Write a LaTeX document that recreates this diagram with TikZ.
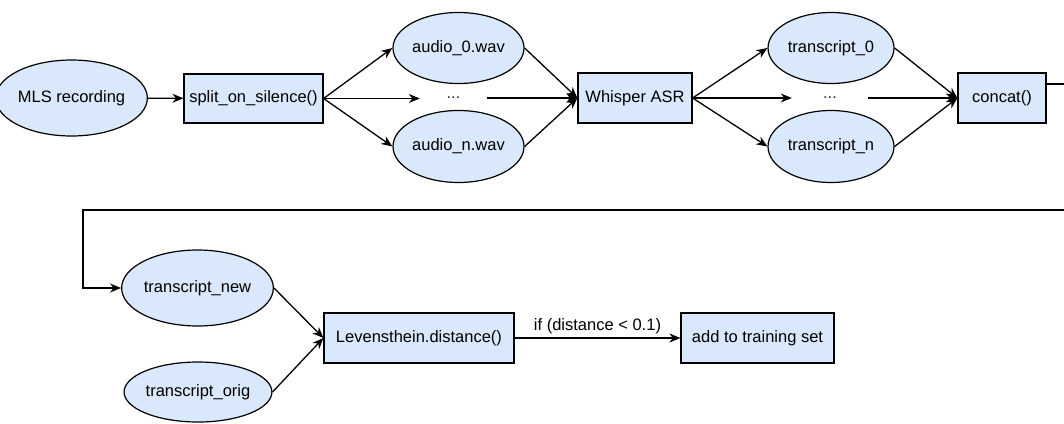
\documentclass[tikz,border=0pt]{standalone}
\usepackage{fontspec}
\setmainfont{Liberation Sans}
\usetikzlibrary{arrows.meta,shapes.geometric,calc}
\definecolor{boxfill}{HTML}{DAE8FC}
\tikzset{
  base/.style={draw=black, line width=1.2pt, fill=boxfill, inner sep=0pt,
    font=\fontsize{16.5}{19}\selectfont, text=black},
  oval/.style={base, ellipse, minimum width=127pt},
  proc/.style={base, rectangle},
  dotsnode/.style={inner sep=0pt, minimum height=20pt, text=black!80,
    font=\fontsize{16.5}{19}\selectfont},
  arr/.style={line width=1.3pt, -{Stealth[length=11pt,width=9pt,inset=3.5pt]}},
}
\begin{document}
\begin{tikzpicture}[x=1pt,y=-1pt]
\useasboundingbox (0,0) rectangle (1064,423);

% top row
\node[oval, minimum height=76pt] (mls) at (71.5,98) {MLS recording};
\node[proc, minimum width=139pt, minimum height=49pt] (split) at (253.5,98.5) {split\_on\_silence()};
\node[oval, minimum height=71pt] (a0) at (458.5,48) {audio\_0.wav};
\node[oval, minimum height=72pt] (an) at (458.5,146.5) {audio\_n.wav};
\node[dotsnode, minimum width=67pt] (d1) at (453.5,98) {...};
\node[proc, minimum width=114pt, minimum height=50pt] (asr) at (635,98) {Whisper ASR};
\node[oval, minimum width=126pt, minimum height=71pt] (t0) at (831,48) {transcript\_0};
\node[oval, minimum width=126pt, minimum height=72pt] (tn) at (831,146.5) {transcript\_n};
\node[dotsnode, minimum width=76pt] (d2) at (830,98) {...};
\node[proc, minimum width=88pt, minimum height=50pt] (cat) at (1002,98) {concat()};

% bottom row
\node[oval, minimum height=76pt] (tnew) at (197.5,288) {transcript\_new};
\node[oval, minimum height=60pt] (torig) at (198,392) {transcript\_orig};
\node[proc, minimum width=190pt, minimum height=50pt] (lev) at (419,338) {Levensthein.distance()};
\node[proc, minimum width=153pt, minimum height=50pt] (add) at (757.5,338) {add to training set};

% wrap-around route from concat() back to the left
\coordinate (wrapR) at (1066,210);
\coordinate (wrapL) at (83,210);

% connectors
\draw[arr] (mls) -- (split);
\draw[arr] (split.east) -- (a0.west);
\draw[arr] (split.east) -- (split.east -| d1.west);
\draw[arr] (split.east) -- (an.west);
\draw[arr] (a0.east) -- (asr.west);
\draw[arr] (d1.east |- asr.west) -- (asr.west);
\draw[arr] (an.east) -- (asr.west);
\draw[arr] (asr.east) -- (t0.west);
\draw[arr] (asr.east) -- (asr.east -| d2.west);
\draw[arr] (asr.east) -- (tn.west);
\draw[arr] (t0.east) -- (cat.west);
\draw[arr] (d2.east |- cat.west) -- (cat.west);
\draw[arr] (tn.east) -- (cat.west);
\draw[arr] ([yshift=14pt]cat.east) -| (wrapR) -- (wrapL) |- (tnew.west);
\draw[arr] (tnew.east) -- (lev.west);
\draw[arr] (torig.east) -- (lev.west);
\draw[arr] (lev.east) -- node[above, inner sep=3pt, font=\fontsize{16.5}{19}\selectfont] {if (distance < 0.1)} (add.west);
\end{tikzpicture}
\end{document}
